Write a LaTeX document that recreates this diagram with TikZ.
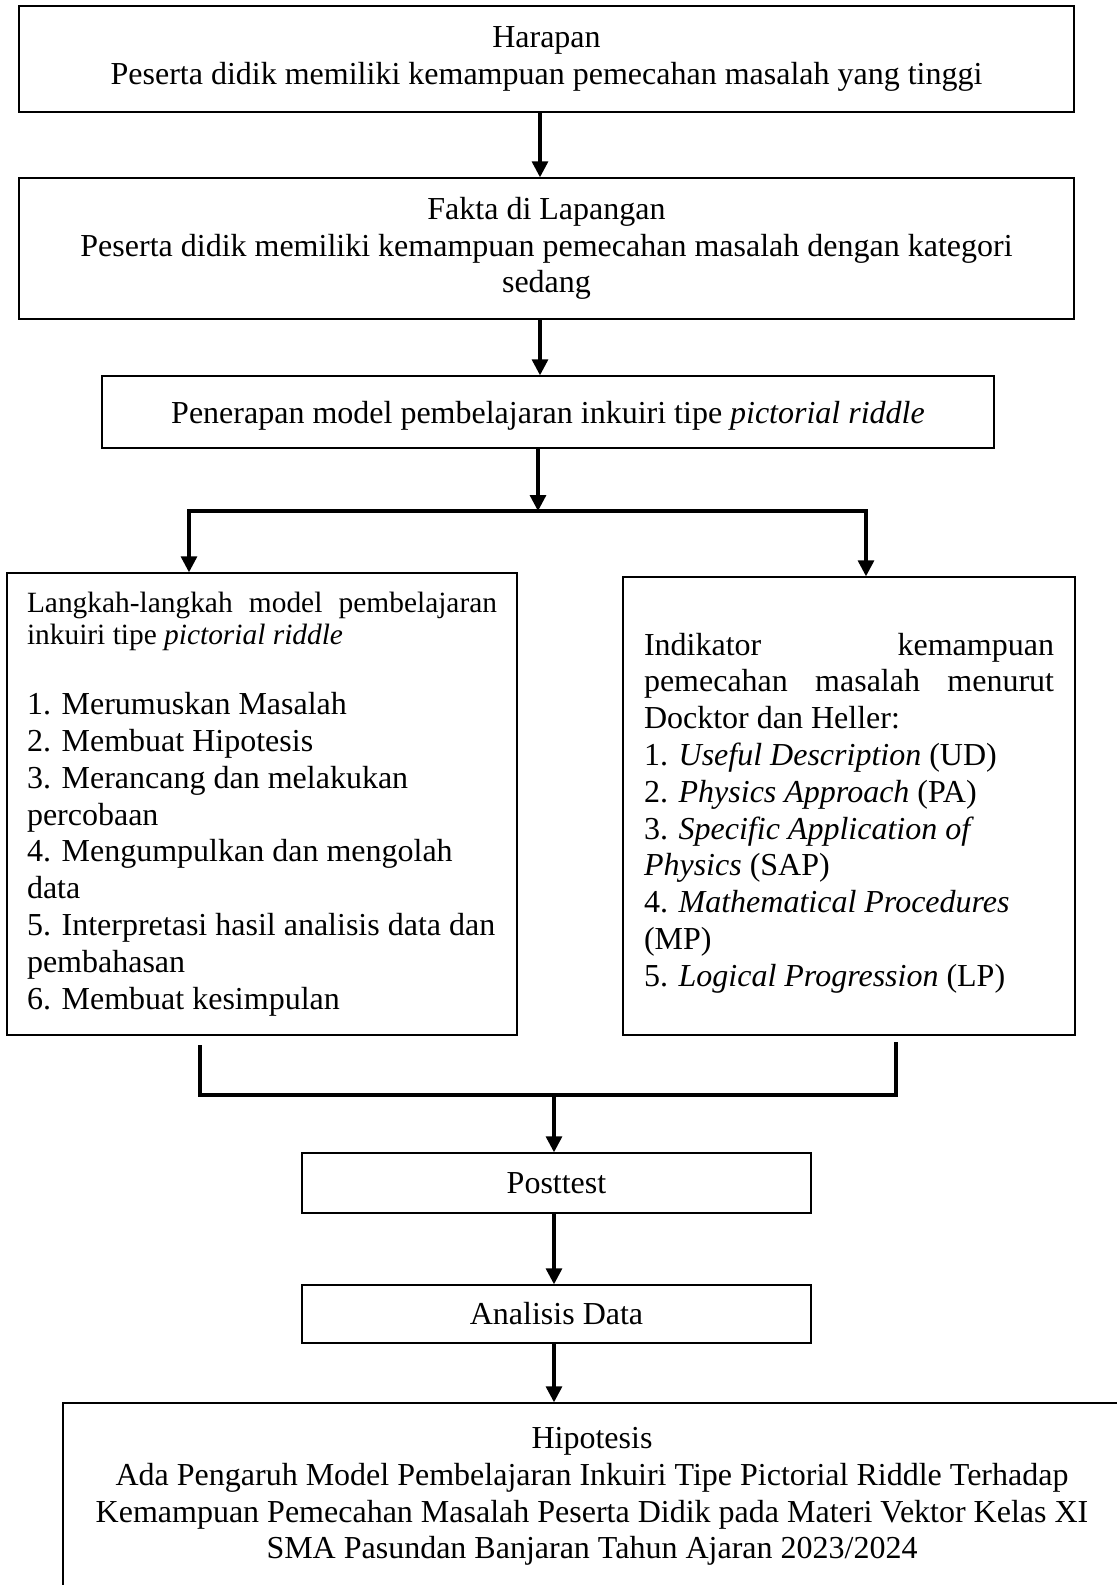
\documentclass[tikz,border=0pt]{standalone}
\usepackage{fontspec}
\setmainfont{Liberation Serif}
\usetikzlibrary{arrows.meta,calc}
\begin{document}
\begin{tikzpicture}[x=0.5pt,y=-0.5pt,
  box/.style={draw,line width=0.7pt,inner sep=0pt,align=center,font=\fontsize{16}{18.4}\selectfont},
  arr/.style={line width=1.6pt,-{Triangle[width=8pt,length=8pt]}},
  conn/.style={line width=1.6pt}]
\useasboundingbox (0,0) rectangle (1117,1585);
\node[box,minimum width=527.5pt,minimum height=53pt] (harapan) at (546.5,59)
  {Harapan\\Peserta didik memiliki kemampuan pemecahan masalah yang tinggi};
\node[box,minimum width=527.5pt,minimum height=70.5pt] (fakta) at (546.5,248.5)
  {Fakta di Lapangan\\Peserta didik memiliki kemampuan pemecahan masalah dengan kategori\\sedang};
\node[box,minimum width=446pt,minimum height=36pt,text height=14.9pt,text depth=3.5pt] (penerapan) at (548,412)
  {Penerapan model pembelajaran inkuiri tipe \textit{pictorial riddle}};
\node[box,minimum width=255pt,minimum height=231pt,text width=235pt,align=justify] (langkah) at (262,804)
  {\parindent=0pt\parskip=0pt
   {\fontsize{14.7}{15.75}\selectfont
   Langkah-langkah model pembelajaran\linebreak inkuiri tipe \textit{pictorial riddle}\par}
   \vspace{16.9pt}
   \noindent 1. Merumuskan Masalah\\
   2. Membuat Hipotesis\\
   3. Merancang dan melakukan\\
   percobaan\\
   4. Mengumpulkan dan mengolah\\
   data\\
   5. Interpretasi hasil analisis data dan\\
   pembahasan\\
   6. Membuat kesimpulan};
\node[box,minimum width=226pt,minimum height=229pt,text width=205pt,align=justify] (indikator) at (849,806)
  {\rule{0pt}{18pt}Indikator kemampuan\linebreak pemecahan masalah menurut\linebreak Docktor dan Heller:\\
   1. \textit{Useful Description} (UD)\\
   2. \textit{Physics Approach} (PA)\\
   3. \textit{Specific Application of}\\
   \textit{Physics} (SAP)\\
   4. \textit{Mathematical Procedures}\\
   (MP)\\
   5. \textit{Logical Progression} (LP)};
\node[box,minimum width=254.5pt,minimum height=30pt] (posttest) at (556.5,1183) {Posttest};
\node[box,minimum width=254.5pt,minimum height=29pt] (analisis) at (556.5,1314) {Analisis Data};
\node[box,minimum width=529pt,minimum height=93.5pt] (hipotesis) at (592,1496.5)
  {Hipotesis\\Ada Pengaruh Model Pembelajaran Inkuiri Tipe Pictorial Riddle Terhadap\\
   Kemampuan Pemecahan Masalah Peserta Didik pada Materi Vektor Kelas XI\\
   SMA Pasundan Banjaran Tahun Ajaran 2023/2024};
% top arrows
\coordinate (c1) at ([xshift=-3.25pt]harapan.south);
\draw[arr] (c1) -- (c1 |- fakta.north);
\coordinate (c2) at ([xshift=-3.25pt]fakta.south);
\draw[arr] (c2) -- (c2 |- penerapan.north);
% split
\coordinate (jl) at (189,511);
\coordinate (jr) at (866,511);
\coordinate (c3) at ([xshift=-5pt]penerapan.south);
\draw[conn] (jl) -- (jr);
\draw[arr] (c3) -- (c3 |- jl);
\draw[arr] ([yshift=0.8pt]jl) -- (jl |- langkah.north);
\draw[arr] ([yshift=0.8pt]jr) -- (jr |- indikator.north);
% merge
\coordinate (bl1) at (200,1045);
\coordinate (bl2) at (200,1095);
\coordinate (br1) at (896,1042);
\coordinate (br2) at (896,1095);
\coordinate (bm) at (554,1095);
\draw[conn,line join=miter] (bl1) -- (bl2) -- (br2) -- (br1);
\draw[arr] (bm) -- (bm |- posttest.north);
\coordinate (c4) at ([xshift=-1.25pt]posttest.south);
\draw[arr] (c4) -- (c4 |- analisis.north);
\coordinate (c5) at ([xshift=-1.25pt]analisis.south);
\draw[arr] (c5) -- (c5 |- hipotesis.north);
\end{tikzpicture}
\end{document}
